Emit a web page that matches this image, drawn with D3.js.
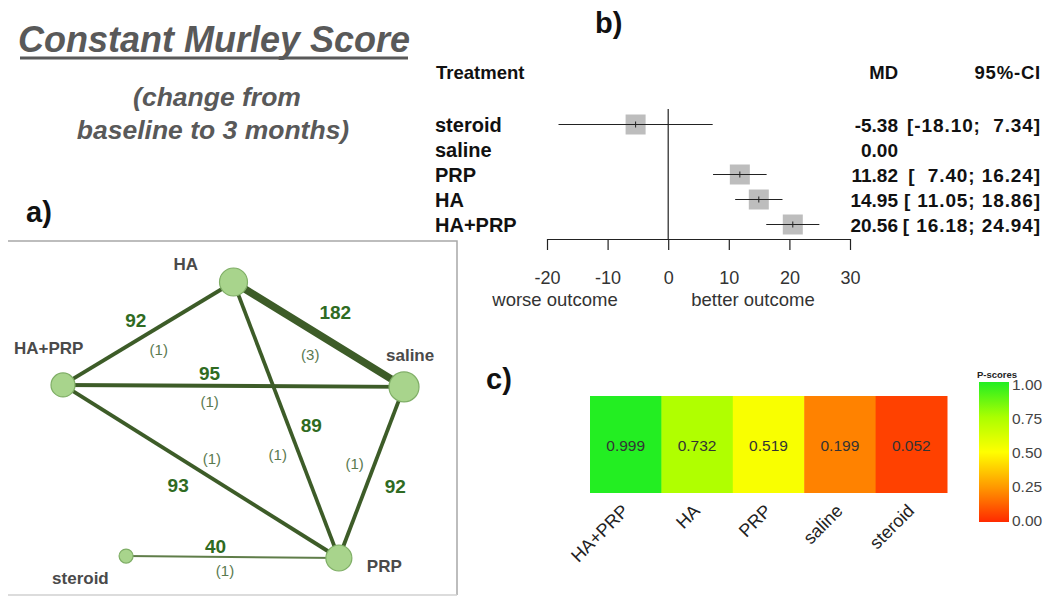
<!DOCTYPE html>
<html><head><meta charset="utf-8">
<script src="https://cdnjs.cloudflare.com/ajax/libs/d3/7.8.5/d3.min.js"></script>
<style>body{margin:0;background:#fff}svg{display:block}</style>
</head><body>
<svg id="c" width="1043" height="596"></svg>
<script>
// ---------- data ----------
const treatments = ["steroid","saline","PRP","HA","HA+PRP"];
const md = [-5.38, 0.00, 11.82, 14.95, 20.56];
const ciLow = [-18.10, null, 7.40, 11.05, 16.18];
const ciHigh = [7.34, null, 16.24, 18.86, 24.94];
const mdLabels = ["-5.38","0.00","11.82","14.95","20.56"];
const ciLabels = ["[-18.10;  7.34]","","[  7.40; 16.24]","[ 11.05; 18.86]","[ 16.18; 24.94]"];
const forestTicks = [-20,-10,0,10,20,30];

const pCategories = ["HA+PRP","HA","PRP","saline","steroid"];
const pScores = [0.999, 0.732, 0.519, 0.199, 0.052];
const pScoreCells = ["0.999","0.732","0.519","0.199","0.052"];
const legendTicks = [0,0.25,0.5,0.75,1];

const nodeNames = ["HA","HA+PRP","saline","PRP","steroid"];
const nodeLayoutX = [0.5, 0.0, 1.0, 0.809, 0.185]; // relative network layout
const nodeLayoutY = [0.0, 0.373, 0.38, 1.0, 0.993];
const nodeSize = [14, 12, 15, 13, 7];
const edgeFrom = ["HA","HA","HA+PRP","HA","saline","HA+PRP","steroid"];
const edgeTo   = ["saline","HA+PRP","saline","PRP","PRP","PRP","PRP"];
const edgeN    = [182, 92, 95, 89, 92, 93, 40];
const edgeStudies = [3,1,1,1,1,1,1];

// ---------- drawing ----------
const svg = d3.select("#c");
const gray = "#595959";
const F = "Liberation Sans, Arial, sans-serif";

// Title
svg.append("text").attr("x",214).attr("y",52).attr("text-anchor","middle")
  .attr("font-family",F).attr("font-weight","bold").attr("font-style","italic")
  .attr("font-size",36).attr("fill",gray).text("Constant Murley Score");
svg.append("line").attr("x1",20).attr("x2",408).attr("y1",58).attr("y2",58).attr("stroke",gray).attr("stroke-width",3);
svg.append("text").attr("x",217).attr("y",106).attr("text-anchor","middle")
  .attr("font-family",F).attr("font-weight","bold").attr("font-style","italic")
  .attr("font-size",26.5).attr("fill",gray).text("(change from");
svg.append("text").attr("x",213).attr("y",139).attr("text-anchor","middle")
  .attr("font-family",F).attr("font-weight","bold").attr("font-style","italic")
  .attr("font-size",26.5).attr("fill",gray).text("baseline to 3 months)");

// panel letters
[["a)",26,222],["b)",595,33],["c)",486,389]].forEach(([t,x,y])=>{
  svg.append("text").attr("x",x).attr("y",y).attr("font-family",F)
    .attr("font-weight","bold").attr("font-size",29).attr("fill","#111").text(t);
});

// ---------- network (a) ----------
const net = svg.append("g");
net.append("path").attr("d","M8,241 H457 V595").attr("fill","none").attr("stroke","#a8a8a8").attr("stroke-width",1.5);
net.append("line").attr("x1",8).attr("x2",457).attr("y1",595).attr("y2",595).attr("stroke","#d0d0d0").attr("stroke-width",1.5);
const nx = d3.scaleLinear().domain([0,1]).range([63,404]);
const ny = d3.scaleLinear().domain([0,1]).range([282,558]);
const nodePos = {};
nodeNames.forEach((n,i)=>nodePos[n]=[nx(nodeLayoutX[i]), ny(nodeLayoutY[i])]);
const wScale = d3.scaleLinear().domain([40,92,182]).range([2,3.8,7.5]);
edgeFrom.forEach((f,i)=>{
  const a=nodePos[f], b=nodePos[edgeTo[i]];
  net.append("line").attr("x1",a[0]).attr("y1",a[1]).attr("x2",b[0]).attr("y2",b[1])
    .attr("stroke", edgeN[i]<50?"#5f7d49":"#3d5c28").attr("stroke-width",wScale(edgeN[i]));
});
nodeNames.forEach((n,i)=>{
  net.append("circle").attr("cx",nodePos[n][0]).attr("cy",nodePos[n][1]).attr("r",nodeSize[i])
    .attr("fill","#a8d48c").attr("stroke","#7fae66").attr("stroke-width",1.2);
});
const nodeLabelOff = {"HA":[-60,-12],"HA+PRP":[-49,-31],"saline":[-18,-26],"PRP":[28,14],"steroid":[-74,28]};
nodeNames.forEach(n=>{
  net.append("text").attr("x",nodePos[n][0]+nodeLabelOff[n][0]).attr("y",nodePos[n][1]+nodeLabelOff[n][1])
    .attr("font-family",F).attr("font-weight","bold").attr("font-size",17).attr("fill","#4a4a4a").text(n);
});
// edge label placement: fraction along edge, dx, dy (centre)
const edgeNumOff = [[0.55,8,-28],[0.55,-4,-19],[0.43,0,-13],[0.52,23,-1],[0.58,29,0],[0.45,-9,22],[0.42,0,-11]];
const edgeStOff  = [[0.45,0,26],[0.45,2,22],[0.43,0,16],[0.6,-19,7],[0.45,-20,0],[0.5,11,-12],[0.465,0,14]];
edgeFrom.forEach((f,i)=>{
  const a=nodePos[f], b=nodePos[edgeTo[i]];
  const o=edgeNumOff[i], s=edgeStOff[i];
  net.append("text").attr("x",a[0]+(b[0]-a[0])*o[0]+o[1]).attr("y",a[1]+(b[1]-a[1])*o[0]+o[2]+7)
    .attr("text-anchor","middle").attr("font-family",F).attr("font-weight","bold")
    .attr("font-size",19).attr("fill","#2f6b22").text(edgeN[i]);
  net.append("text").attr("x",a[0]+(b[0]-a[0])*s[0]+s[1]).attr("y",a[1]+(b[1]-a[1])*s[0]+s[2]+5)
    .attr("text-anchor","middle").attr("font-family",F)
    .attr("font-size",15).attr("fill","#5a7a4f").text("("+edgeStudies[i]+")");
});

// ---------- forest (b) ----------
const fx = d3.scaleLinear().domain([-20,30]).range([547,850]);
const fy = d3.scaleBand().domain(treatments).range([112,237]).paddingInner(0);
const fg = svg.append("g");
fg.append("text").attr("x",436).attr("y",79).attr("font-family",F).attr("font-weight","bold").attr("font-size",18.5).attr("fill","#111").text("Treatment");
fg.append("text").attr("x",898).attr("y",79).attr("text-anchor","end").attr("font-family",F).attr("font-weight","bold").attr("font-size",18.5).attr("fill","#111").text("MD");
fg.append("text").attr("x",1041).attr("y",79).attr("text-anchor","end").attr("font-family",F).attr("font-weight","bold").attr("font-size",18.5).attr("letter-spacing",0.8).attr("fill","#111").text("95%-CI");
fg.append("line").attr("x1",fx(0)).attr("x2",fx(0)).attr("y1",109).attr("y2",239).attr("stroke","#222").attr("stroke-width",1.2);
treatments.forEach((t,i)=>{
  const cy = fy(t)+fy.bandwidth()/2;
  fg.append("text").attr("x",435).attr("y",cy+7).attr("font-family",F).attr("font-weight","bold").attr("font-size",20).attr("fill","#111").text(t);
  fg.append("text").attr("x",898).attr("y",cy+7).attr("text-anchor","end").attr("font-family",F).attr("font-weight","bold").attr("font-size",19).attr("fill","#111").text(mdLabels[i]);
  fg.append("text").attr("x",1041).attr("y",cy+7).attr("text-anchor","end").attr("font-family",F).attr("font-weight","bold").attr("font-size",19).attr("letter-spacing",0.9).attr("fill","#111").style("white-space","pre").text(ciLabels[i]);
  if (ciLow[i]!==null){
    fg.append("rect").attr("x",fx(md[i])-10).attr("y",cy-10).attr("width",20).attr("height",20).attr("fill","#bdbdbd");
    fg.append("line").attr("x1",fx(ciLow[i])).attr("x2",fx(ciHigh[i])).attr("y1",cy).attr("y2",cy).attr("stroke","#222").attr("stroke-width",1.2);
    fg.append("line").attr("x1",fx(md[i])).attr("x2",fx(md[i])).attr("y1",cy-3).attr("y2",cy+3).attr("stroke","#222").attr("stroke-width",1);
  }
});
const fAxis = fg.append("g").attr("transform","translate(0,239)")
  .call(d3.axisBottom(fx).tickValues(forestTicks).tickSize(11).tickSizeOuter(0).tickFormat(d=>String(d)));
fAxis.select(".domain").attr("stroke","#222").attr("stroke-width",1.2);
fAxis.selectAll(".tick line").attr("stroke","#222").attr("stroke-width",1.2);
fAxis.selectAll(".tick text").attr("font-family",F).attr("font-size",18).attr("fill","#333").attr("dy","1.7em");
fg.append("text").attr("x",555).attr("y",306).attr("text-anchor","middle").attr("font-family",F).attr("font-size",18.5).attr("fill","#333").text("worse outcome");
fg.append("text").attr("x",753).attr("y",306).attr("text-anchor","middle").attr("font-family",F).attr("font-size",18.5).attr("fill","#333").text("better outcome");

// ---------- heatmap (c) ----------
const color = d3.scaleLinear().domain([0,0.25,0.5,0.75,1])
  .range(["#ff2a00","#ff9900","#ffff00","#aaff00","#22ee22"]);
const hx = d3.scaleBand().domain(pCategories).range([590,947]);
const hg = svg.append("g");
pCategories.forEach((c,i)=>{
  hg.append("rect").attr("x",hx(c)).attr("y",396).attr("width",hx.bandwidth()+0.5).attr("height",97).attr("fill",color(pScores[i]));
  hg.append("text").attr("x",hx(c)+hx.bandwidth()/2).attr("y",451).attr("text-anchor","middle")
    .attr("font-family",F).attr("font-size",15.5).attr("fill","#333").text(pScoreCells[i]);
  hg.append("text").attr("transform",`translate(${hx(c)+hx.bandwidth()/2+4},${512}) rotate(-45)`)
    .attr("text-anchor","end").attr("font-family",F).attr("font-size",18).attr("fill","#222").text(c);
});
// legend
const defs = svg.append("defs");
const grad = defs.append("linearGradient").attr("id","pg").attr("x1",0).attr("x2",0).attr("y1",1).attr("y2",0);
d3.range(0,1.0001,0.05).forEach(t=>grad.append("stop").attr("offset",t).attr("stop-color",color(t)));
const ly = d3.scaleLinear().domain([0,1]).range([520,384]);
hg.append("rect").attr("x",979).attr("y",ly(1)-2).attr("width",30).attr("height",ly(0)-ly(1)+4).attr("fill","url(#pg)");
hg.append("text").attr("x",977).attr("y",378).attr("font-family",F).attr("font-weight","bold").attr("font-size",9.5).attr("fill","#222").text("P-scores");
legendTicks.forEach(t=>{
  hg.append("text").attr("x",1012).attr("y",ly(t)+6).attr("font-family",F).attr("font-size",15.5).attr("fill","#444").text(d3.format(".2f")(t));
});
</script>
</body></html>
